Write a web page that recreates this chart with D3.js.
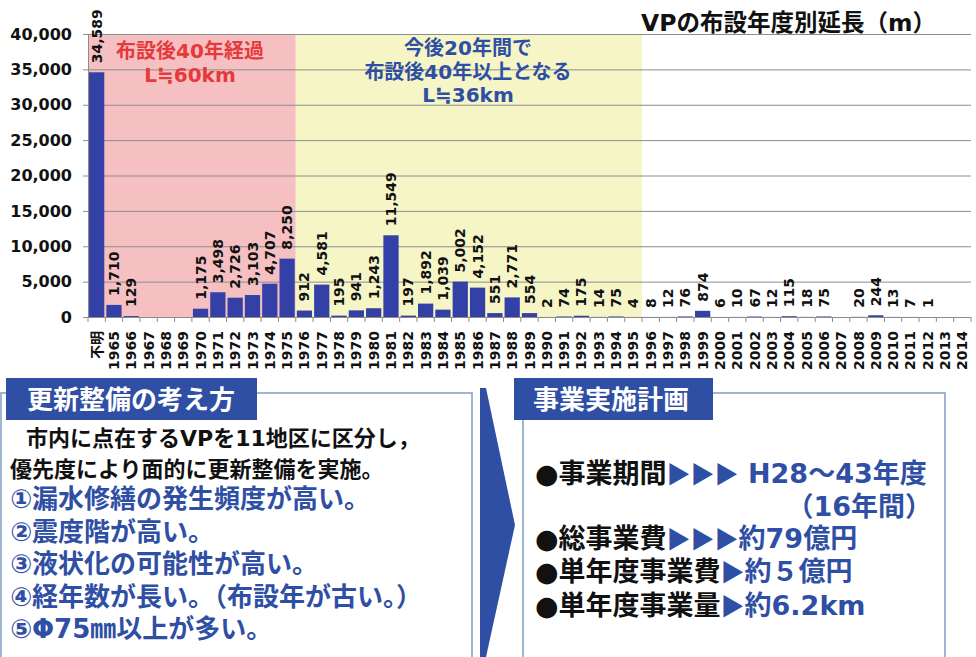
<!DOCTYPE html>
<html>
<head>
<meta charset="utf-8">
<script src="https://cdn.jsdelivr.net/npm/d3@7"></script>
<style>
  body { margin: 0; background: #fff; }
  svg { display: block; }
  text { font-family: "DejaVu Sans", "Noto Sans CJK JP", sans-serif; font-weight: bold; }
  .jp { font-family: "Noto Sans CJK JP", sans-serif; }
</style>
</head>
<body>
<svg id="chart" width="976" height="657"></svg>
<script>
// data
const years = ["不明", "1965", "1966", "1967", "1968", "1969", "1970", "1971", "1972", "1973", "1974", "1975",
  "1976", "1977", "1978", "1979", "1980", "1981", "1982", "1983", "1984", "1985", "1986", "1987", "1988", "1989",
  "1990", "1991", "1992", "1993", "1994", "1995", "1996", "1997", "1998", "1999", "2000", "2001", "2002", "2003",
  "2004", "2005", "2006", "2007", "2008", "2009", "2010", "2011", "2012", "2013", "2014"];
const lengths = [34589, 1710, 129, null, null, null, 1175, 3498, 2726, 3103, 4707, 8250,
  912, 4581, 195, 941, 1243, 11549, 197, 1892, 1039, 5002, 4152, 551, 2771, 554,
  2, 74, 175, 14, 75, 4, 8, 12, 76, 874, 6, 10, 67, 12,
  115, 18, 75, null, 20, 244, 13, 7, 1, null, null];
const yTicks = [0, 5000, 10000, 15000, 20000, 25000, 30000, 35000, 40000];
const oldSpan = ["不明", "1975"];     // 布設後40年経過
const nextSpan = ["1976", "1995"];    // 今後20年間で40年以上
const oldNote = ["布設後40年経過", "L≒60km"];
const nextNote = ["今後20年間で", "布設後40年以上となる", "L≒36km"];
const title = "VPの布設年度別延長（m）";

const policyHead = "更新整備の考え方";
const policyIntro = ["市内に点在するVPを11地区に区分し，", "優先度により面的に更新整備を実施。"];
const policyItems = ["①漏水修繕の発生頻度が高い。", "②震度階が高い。", "③液状化の可能性が高い。",
  "④経年数が長い。（布設年が古い。）", "⑤Φ75㎜以上が多い。"];
const planHead = "事業実施計画";
const planItems = [["●事業期間", "▶▶▶", " H28～43年度"], ["●総事業費", "▶▶▶", "約79億円"],
  ["●単年度事業費", "▶", "約５億円"], ["●単年度事業量", "▶", "約6.2km"]];
const planNote = "（16年間）";

const svg = d3.select("#chart");
const barColor = "#3340a6", blue = "#2f4fa5", red = "#e5393a", frame = "#7f9ec4";

const x = d3.scaleBand().domain(years).range([88, 971]).paddingInner(0.12).paddingOuter(0.06);
const y = d3.scaleLinear().domain([0, 40000]).range([317, 34]);
const gap = x.step() - x.bandwidth();
const left = d => x(d) - gap / 2;
const right = d => x(d) + x.bandwidth() + gap / 2;

// shaded periods
svg.append("rect").attr("x", left(oldSpan[0])).attr("y", y(40000))
  .attr("width", right(oldSpan[1]) - left(oldSpan[0])).attr("height", y(0) - y(40000)).attr("fill", "#f6c0c3");
svg.append("rect").attr("x", left(nextSpan[0])).attr("y", y(40000))
  .attr("width", right(nextSpan[1]) - left(nextSpan[0])).attr("height", y(0) - y(40000)).attr("fill", "#f5f5c6");

// y axis + grid
const yAxis = svg.append("g").attr("transform", "translate(88,0)")
  .call(d3.axisLeft(y).tickValues(yTicks).tickFormat(d3.format(",")).tickSizeInner(-883).tickSizeOuter(0).tickPadding(16));
yAxis.select(".domain").attr("stroke", "#8c8c8c");
yAxis.selectAll(".tick line").attr("stroke", "#8c8c8c");
yAxis.selectAll(".tick text").attr("font-size", 16).attr("fill", "#111");
yAxis.selectAll(".tick").append("line").attr("x1", -5).attr("x2", 0).attr("stroke", "#8c8c8c");

// x axis
const xAxis = svg.append("g").attr("transform", "translate(0,317)")
  .call(d3.axisBottom(x).tickSize(0));
xAxis.select(".domain").remove();
xAxis.selectAll(".tick text").attr("font-size", 14).attr("fill", "#111")
  .attr("transform", "rotate(-90)").attr("x", -14).attr("y", 0).attr("dy", "0.36em")
  .style("text-anchor", "end");
svg.append("g").selectAll("line").data(years.concat(["end"])).join("line")
  .attr("x1", (d, i) => i < years.length ? left(d) : right(years[years.length - 1]))
  .attr("x2", (d, i) => i < years.length ? left(d) : right(years[years.length - 1]))
  .attr("y1", 317).attr("y2", 322).attr("stroke", "#8c8c8c");

// bars
const rows = years.map((c, i) => ({ c, v: lengths[i] })).filter(d => d.v != null);
svg.append("g").selectAll("rect").data(rows).join("rect")
  .attr("x", d => x(d.c)).attr("width", x.bandwidth())
  .attr("y", d => y(d.v)).attr("height", d => y(0) - y(d.v)).attr("fill", barColor);

svg.append("g").selectAll("text").data(rows).join("text")
  .attr("transform", d => `translate(${x(d.c) + x.bandwidth() / 2},${y(d.v) - 9}) rotate(-90)`)
  .attr("dy", "0.36em").attr("font-size", 14).attr("fill", "#111")
  .text(d => d3.format(",")(d.v));

// notes in shaded areas
svg.append("g").selectAll("text").data(oldNote).join("text")
  .attr("x", 190).attr("y", (d, i) => 58 + i * 24).attr("text-anchor", "middle")
  .attr("font-size", 20).attr("fill", red).text(d => d);
svg.append("g").selectAll("text").data(nextNote).join("text")
  .attr("x", 468).attr("y", (d, i) => 55 + i * 23.5).attr("text-anchor", "middle")
  .attr("font-size", 20).attr("fill", blue).text(d => d);

svg.append("text").attr("x", 641).attr("y", 31).attr("font-size", 23.5).attr("fill", "#111").text(title);

// lower panels
const boxes = svg.append("g").attr("fill", "none").attr("stroke", frame).attr("stroke-width", 1.5);
boxes.append("path").attr("d", "M1,657V393H472V657");
boxes.append("path").attr("d", "M523,657V393H945V657");

svg.append("rect").attr("x", 6).attr("y", 378).attr("width", 251).attr("height", 42).attr("fill", blue);
svg.append("rect").attr("x", 514).attr("y", 378).attr("width", 199).attr("height", 42).attr("fill", blue);
svg.append("text").attr("x", 27).attr("y", 409).attr("font-size", 26).attr("fill", "#fff").text(policyHead);
svg.append("text").attr("x", 533).attr("y", 409).attr("font-size", 26).attr("fill", "#fff").text(planHead);

svg.append("polygon").attr("points", "480,388 486,388 515,525 486,657 480,657").attr("fill", blue);

svg.append("g").selectAll("text").data(policyIntro).join("text")
  .attr("x", (d, i) => i === 0 ? 26 : 10).attr("y", (d, i) => 446 + i * 30.5)
  .attr("font-size", 22).attr("fill", "#111").text(d => d);
svg.append("g").selectAll("text").data(policyItems).join("text")
  .attr("x", 10).attr("y", (d, i) => 508 + i * 32.6)
  .attr("font-size", 26).attr("fill", blue).text(d => d);

const planY = [483, 548, 581, 615];
const plan = svg.append("g").selectAll("text").data(planItems).join("text")
  .attr("x", 535).attr("y", (d, i) => planY[i]).attr("font-size", 27);
plan.append("tspan").attr("fill", "#111").text(d => d[0]);
plan.append("tspan").attr("class", "jp").attr("font-size", 24).attr("fill", blue).text(d => d[1]);
plan.append("tspan").attr("fill", blue).text(d => d[2]);
svg.append("text").attr("x", 932).attr("y", 516).attr("text-anchor", "end")
  .attr("font-size", 27).attr("fill", blue).text(planNote);
</script>
</body>
</html>
